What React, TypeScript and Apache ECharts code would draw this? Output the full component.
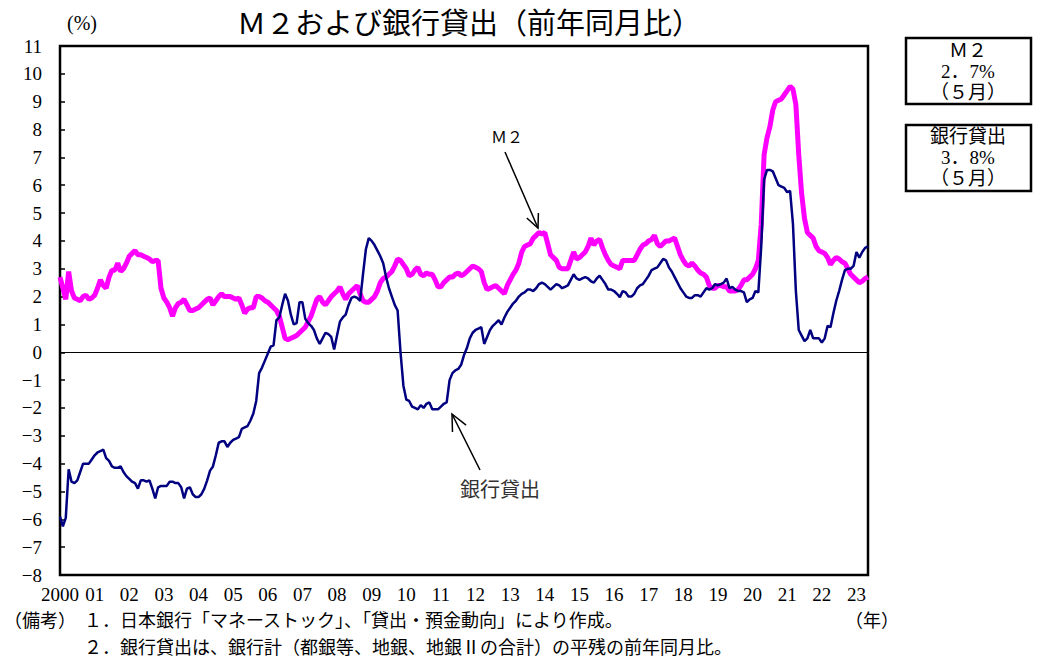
import React, { useEffect, useRef } from "react";
import * as echarts from "echarts";

const startYear = 2000;
const endYear = 2023;
const lastMonth = 5; // May 2023

// M2 year-on-year (%), monthly, Jan 2000 - May 2023
const m2Values = [
  2.7, 2.3, 1.9, 2.9, 2.2, 1.95, 1.9, 1.85, 2.0, 2.05, 1.9, 1.95, // 2000
  2.05, 2.3, 2.6, 2.4, 2.3, 2.7, 2.95, 2.95, 3.2, 2.9, 3.0, 3.2, // 2001
  3.45, 3.55, 3.65, 3.5, 3.5, 3.45, 3.4, 3.35, 3.25, 3.3, 3.3, 2.3, // 2002
  1.95, 1.8, 1.6, 1.3, 1.6, 1.75, 1.8, 1.9, 1.7, 1.5, 1.5, 1.55, // 2003
  1.6, 1.7, 1.8, 1.9, 1.95, 1.7, 1.85, 2.0, 2.1, 2.0, 2.0, 2.0, // 2004
  1.95, 1.9, 1.95, 1.7, 1.4, 1.55, 1.6, 1.6, 2.0, 2.0, 1.95, 1.85, // 2005
  1.8, 1.7, 1.6, 1.5, 1.3, 0.9, 0.5, 0.45, 0.5, 0.55, 0.6, 0.7, // 2006
  0.8, 0.9, 1.1, 1.3, 1.6, 1.9, 2.0, 1.8, 1.7, 1.85, 2.0, 2.1, // 2007
  2.2, 2.35, 2.1, 1.9, 2.1, 2.2, 2.3, 2.4, 2.1, 1.85, 1.8, 1.8, // 2008
  1.9, 2.0, 2.2, 2.5, 2.65, 2.7, 2.8, 2.9, 3.1, 3.35, 3.3, 3.15, // 2009
  3.0, 2.75, 2.8, 2.95, 3.05, 2.8, 2.75, 2.85, 2.8, 2.8, 2.6, 2.35, // 2010
  2.35, 2.5, 2.6, 2.7, 2.7, 2.8, 2.85, 2.75, 2.8, 2.9, 3.0, 3.1, // 2011
  3.05, 3.0, 2.9, 2.5, 2.25, 2.3, 2.35, 2.4, 2.3, 2.2, 2.1, 2.4, // 2012
  2.6, 2.8, 2.95, 3.2, 3.6, 3.8, 3.85, 3.9, 4.1, 4.2, 4.3, 4.25, // 2013
  4.3, 3.9, 3.5, 3.4, 3.3, 3.05, 3.0, 3.0, 3.0, 3.3, 3.6, 3.35, // 2014
  3.4, 3.5, 3.6, 3.8, 4.1, 3.85, 4.0, 4.05, 3.75, 3.5, 3.3, 3.15, // 2015
  3.1, 3.05, 3.0, 3.3, 3.3, 3.3, 3.3, 3.3, 3.5, 3.7, 3.85, 3.9, // 2016
  4.0, 4.05, 4.2, 3.9, 3.8, 3.9, 4.0, 4.0, 4.05, 4.1, 3.8, 3.5, // 2017
  3.3, 3.15, 3.1, 3.2, 3.1, 2.95, 2.85, 2.8, 2.7, 2.4, 2.3, 2.3, // 2018
  2.4, 2.4, 2.35, 2.35, 2.2, 2.2, 2.2, 2.25, 2.4, 2.6, 2.6, 2.7, // 2019
  2.8, 3.0, 3.3, 4.6, 7.1, 7.7, 8.1, 8.7, 9.0, 9.05, 9.1, 9.25, // 2020
  9.4, 9.55, 9.45, 8.9, 7.1, 5.7, 4.8, 4.3, 4.2, 4.1, 3.8, 3.65, // 2021
  3.6, 3.55, 3.4, 3.15, 3.3, 3.4, 3.35, 3.25, 3.2, 3.0, 2.8, 2.7, // 2022
  2.6, 2.5, 2.55, 2.65, 2.7, // 2023
];

// Bank lending year-on-year (%), monthly, Jan 2000 - May 2023
const loanValues = [
  -5.9, -6.25, -5.95, -4.2, -4.65, -4.7, -4.6, -4.3, -4.0, -4.0, -4.0, -3.85, // 2000
  -3.7, -3.6, -3.55, -3.5, -3.8, -3.9, -4.1, -4.15, -4.15, -4.1, -4.3, -4.45, // 2001
  -4.55, -4.65, -4.7, -4.9, -4.6, -4.6, -4.65, -4.6, -4.9, -5.25, -4.85, -4.8, // 2002
  -4.8, -4.8, -4.65, -4.65, -4.7, -4.7, -4.85, -5.25, -4.9, -4.85, -5.1, -5.2, // 2003
  -5.2, -5.1, -4.9, -4.6, -4.25, -4.1, -3.7, -3.25, -3.2, -3.2, -3.4, -3.25, // 2004
  -3.15, -3.1, -3.05, -2.75, -2.7, -2.65, -2.45, -2.2, -1.75, -0.75, -0.55, -0.3, // 2005
  -0.05, 0.2, 0.25, 1.15, 1.25, 1.7, 2.1, 1.85, 1.35, 1.0, 1.05, 1.8, // 2006
  1.8, 1.2, 1.05, 0.95, 0.8, 0.5, 0.3, 0.5, 0.7, 0.65, 0.55, 0.1, // 2007
  0.6, 1.1, 1.25, 1.35, 1.7, 1.95, 2.0, 1.95, 1.85, 2.8, 3.7, 4.1, // 2008
  4.0, 3.85, 3.65, 3.45, 3.2, 2.7, 2.3, 2.0, 1.7, 1.5, 0.0, -1.2, // 2009
  -1.7, -1.75, -1.95, -2.0, -2.05, -1.9, -2.0, -1.85, -1.8, -2.05, -2.05, -2.05, // 2010
  -1.95, -1.85, -1.8, -1.0, -0.75, -0.65, -0.6, -0.45, -0.1, 0.15, 0.5, 0.7, // 2011
  0.8, 0.85, 0.9, 0.3, 0.55, 0.8, 0.95, 1.05, 1.15, 1.0, 1.25, 1.45, // 2012
  1.6, 1.75, 1.85, 2.0, 2.1, 2.15, 2.25, 2.25, 2.2, 2.3, 2.45, 2.5, // 2013
  2.45, 2.35, 2.25, 2.35, 2.45, 2.4, 2.3, 2.35, 2.4, 2.6, 2.8, 2.65, // 2014
  2.6, 2.65, 2.7, 2.65, 2.55, 2.5, 2.65, 2.75, 2.6, 2.45, 2.25, 2.25, // 2015
  2.2, 2.1, 1.98, 2.2, 2.15, 2.0, 2.0, 2.1, 2.3, 2.4, 2.45, 2.6, // 2016
  2.75, 2.95, 3.0, 3.05, 3.2, 3.35, 3.3, 3.05, 2.9, 2.7, 2.5, 2.3, // 2017
  2.15, 2.0, 1.95, 1.95, 2.05, 2.05, 2.0, 2.15, 2.3, 2.25, 2.3, 2.45, // 2018
  2.4, 2.45, 2.5, 2.65, 2.3, 2.35, 2.25, 2.2, 2.2, 2.15, 1.8, 1.9, // 2019
  1.95, 2.2, 2.15, 3.8, 6.2, 6.55, 6.55, 6.5, 6.25, 6.0, 5.95, 5.9, // 2020
  5.75, 5.8, 4.6, 2.2, 0.8, 0.6, 0.4, 0.5, 0.8, 0.5, 0.5, 0.5, // 2021
  0.35, 0.5, 0.95, 0.9, 1.4, 1.85, 2.2, 2.6, 2.95, 3.0, 3.0, 3.1, // 2022
  3.6, 3.4, 3.6, 3.75, 3.8, // 2023
];

const yTicksMin = -8;
const yTicksMax = 11;

const months: string[] = [];
for (let y = startYear; y <= endYear; y++) {
  for (let m = 1; m <= 12; m++) {
    if (y === endYear && m > lastMonth) break;
    months.push(`${y}-${m}`);
  }
}

const serif = "Liberation Serif, Noto Sans CJK JP, serif";
const jp = "Noto Sans CJK JP, sans-serif";

function arrowHead(tipX: number, tipY: number, fromX: number, fromY: number, len: number) {
  const dx = fromX - tipX;
  const dy = fromY - tipY;
  const d = Math.hypot(dx, dy);
  const bx = dx / d;
  const by = dy / d;
  const a = (25 * Math.PI) / 180;
  const c = Math.cos(a);
  const s = Math.sin(a);
  const p1 = [tipX + (bx * c - by * s) * len, tipY + (bx * s + by * c) * len];
  const p2 = [tipX + (bx * c + by * s) * len, tipY + (-bx * s + by * c) * len];
  return [p1, [tipX, tipY], p2];
}

export default function App() {
  const ref = useRef<HTMLDivElement>(null);
  useEffect(() => {
    document.body.style.margin = "0";
    if (!ref.current) return;
    const chart = echarts.init(ref.current, undefined, { renderer: "svg" });
    const m2Tail = [505, 152];
    const m2Tip = [538, 228];
    const lnTail = [480, 470];
    const lnTip = [452, 414];
    const noteStyle = { fontFamily: jp, fontSize: 18, lineHeight: 18, fill: "#000", verticalAlign: "middle" };
    chart.setOption({
      animation: false,
      backgroundColor: "#fff",
      grid: {
        left: 60,
        right: 176,
        top: 46,
        bottom: 84,
        show: true,
        borderColor: "#000",
        borderWidth: 2.5,
        backgroundColor: "transparent",
        containLabel: false,
        outerBoundsMode: "none",
      },
      xAxis: {
        type: "category",
        data: months,
        boundaryGap: false,
        axisLine: { show: false },
        axisTick: { show: false },
        splitLine: { show: false },
        axisLabel: {
          interval: (i: number) => i % 12 === 0,
          formatter: (_v: string, i: number) => {
            const y = startYear + Math.floor(i / 12);
            return i === 0 ? String(y) : String(y % 100).padStart(2, "0");
          },
          fontFamily: serif,
          fontSize: 19,
          lineHeight: 19,
          color: "#000",
          margin: 10,
        },
      },
      yAxis: {
        type: "value",
        min: yTicksMin,
        max: yTicksMax,
        interval: 1,
        axisLine: { show: false },
        axisTick: { show: true, inside: true, length: 5, lineStyle: { color: "#000", width: 1.5 } },
        splitLine: { show: false },
        axisLabel: {
          formatter: (v: number) => (v < 0 ? "\u2212" + Math.abs(v) : String(v)),
          fontFamily: serif,
          fontSize: 19,
          color: "#000",
          margin: 18,
        },
      },
      series: [
        {
          name: "M2",
          type: "line",
          data: m2Values,
          symbol: "none",
          lineStyle: { color: "#FF00FF", width: 5 },
          z: 2,
        },
        {
          name: "銀行貸出",
          type: "line",
          data: loanValues,
          symbol: "none",
          lineStyle: { color: "#000080", width: 2.5 },
          z: 3,
          markLine: {
            silent: true,
            symbol: "none",
            label: { show: false },
            lineStyle: { color: "#000", width: 1, type: "solid" },
            data: [{ yAxis: 0 }],
            z: 1,
          },
        },
      ],
      graphic: [
        {
          type: "text",
          x: 469,
          y: 21,
          style: {
            text: "Ｍ２および銀行貸出（前年同月比）",
            fontFamily: jp,
            fontSize: 29,
            fill: "#000",
            align: "center",
            verticalAlign: "middle",
          },
        },
        {
          type: "text",
          x: 82,
          y: 23,
          style: { text: "(%)", fontFamily: serif, fontSize: 20, fill: "#000", align: "center", verticalAlign: "middle" },
        },
        // right boxes
        {
          type: "rect",
          shape: { x: 906, y: 38, width: 125, height: 66 },
          style: { fill: "#fff", stroke: "#000", lineWidth: 2.5 },
        },
        {
          type: "text",
          x: 968,
          y: 71,
          style: {
            text: "Ｍ２\n2．7%\n（５月）",
            fontFamily: serif,
            fontSize: 19,
            lineHeight: 21,
            fill: "#000",
            align: "center",
            verticalAlign: "middle",
          },
        },
        {
          type: "rect",
          shape: { x: 906, y: 125, width: 125, height: 66 },
          style: { fill: "#fff", stroke: "#000", lineWidth: 2.5 },
        },
        {
          type: "text",
          x: 968,
          y: 157,
          style: {
            text: "銀行貸出\n3．8%\n（５月）",
            fontFamily: serif,
            fontSize: 19,
            lineHeight: 21,
            fill: "#000",
            align: "center",
            verticalAlign: "middle",
          },
        },
        // annotations
        {
          type: "text",
          x: 507,
          y: 137,
          style: { text: "Ｍ２", fontFamily: serif, fontSize: 16, fill: "#000", align: "center", verticalAlign: "middle" },
        },
        {
          type: "line",
          shape: { x1: m2Tail[0], y1: m2Tail[1], x2: m2Tip[0], y2: m2Tip[1] },
          style: { stroke: "#000", lineWidth: 1.5 },
        },
        {
          type: "polyline",
          shape: { points: arrowHead(m2Tip[0], m2Tip[1], m2Tail[0], m2Tail[1], 15) },
          style: { stroke: "#000", lineWidth: 1.5, fill: "none" },
        },
        {
          type: "text",
          x: 500,
          y: 488,
          style: { text: "銀行貸出", fontFamily: jp, fontSize: 20, fill: "#333", align: "center", verticalAlign: "middle" },
        },
        {
          type: "line",
          shape: { x1: lnTail[0], y1: lnTail[1], x2: lnTip[0], y2: lnTip[1] },
          style: { stroke: "#000", lineWidth: 1.5 },
        },
        {
          type: "polyline",
          shape: { points: arrowHead(lnTip[0], lnTip[1], lnTail[0], lnTail[1], 18) },
          style: { stroke: "#000", lineWidth: 1.5, fill: "none" },
        },
        // footnotes
        { type: "text", x: 4, y: 619, style: { ...noteStyle, text: "（備考）" } },
        {
          type: "text",
          x: 84,
          y: 619,
          style: { ...noteStyle, text: "１．日本銀行「マネーストック」、「貸出・預金動向」により作成。" },
        },
        { type: "text", x: 845, y: 619, style: { ...noteStyle, text: "（年）" } },
        {
          type: "text",
          x: 84,
          y: 645.5,
          style: { ...noteStyle, text: "２．銀行貸出は、銀行計（都銀等、地銀、地銀Ⅱの合計）の平残の前年同月比。" },
        },
      ],
    });
    return () => chart.dispose();
  }, []);
  return <div ref={ref} style={{ width: 1044, height: 659 }} />;
}
